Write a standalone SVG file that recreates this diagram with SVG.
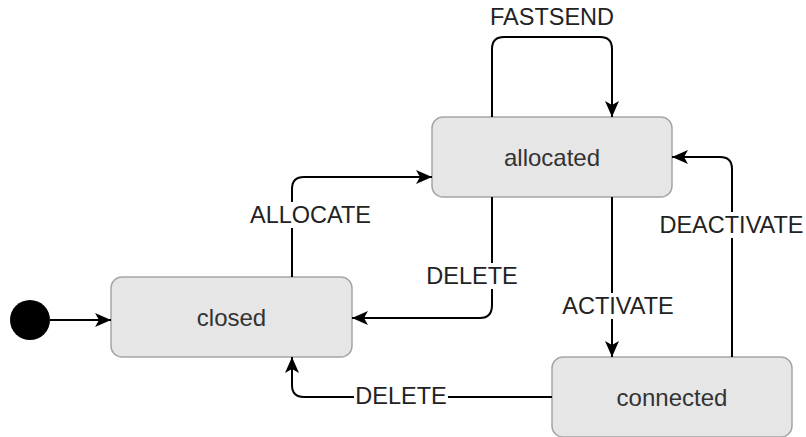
<svg xmlns="http://www.w3.org/2000/svg" width="806" height="437" viewBox="0 0 806 437">
<style>
.node rect{fill:#e6e6e6;stroke:#a6a6a6;stroke-width:1.5}
.node text{font-family:"Liberation Sans",Arial,sans-serif;font-size:24px;fill:#333;text-anchor:middle;dominant-baseline:central}
.edge{fill:none;stroke:#000;stroke-width:2}
.lbl rect{fill:#fff}
.lbl text{font-family:"Liberation Sans",Arial,sans-serif;font-size:23.5px;fill:#222;text-anchor:middle;dominant-baseline:central}
</style>
<defs>
<marker id="arr" markerUnits="userSpaceOnUse" markerWidth="18" markerHeight="16" refX="16" refY="8" orient="auto">
<path d="M0,1 L16,8 L0,15 L4,8 Z" fill="#000"/>
</marker>
</defs>
<g id="initial"><circle cx="30" cy="320" r="20" fill="#000"/></g>
<g id="closed" class="node"><rect x="111" y="277" width="241" height="80" rx="11"/><text x="231.5" y="317">closed</text></g>
<g id="allocated" class="node"><rect x="432" y="117" width="240" height="80" rx="11"/><text x="552" y="157">allocated</text></g>
<g id="connected" class="node"><rect x="552" y="357" width="240" height="80" rx="11"/><text x="672" y="397">connected</text></g>
<g id="connectors">
<path class="edge" d="M50,320 H111" marker-end="url(#arr)"/>
<path class="edge" d="M492,117 V49 Q492,37 504,37 H600 Q612,37 612,49 V117" marker-end="url(#arr)"/>
<path class="edge" d="M292,277 V189 Q292,177 304,177 H432" marker-end="url(#arr)"/>
<path class="edge" d="M492,197 V305 Q492,318 480,318 H352" marker-end="url(#arr)"/>
<path class="edge" d="M612,197 V357" marker-end="url(#arr)"/>
<path class="edge" d="M732,357 V169 Q732,157 720,157 H672" marker-end="url(#arr)"/>
<path class="edge" d="M552,397 H304 Q292,397 292,385 V357" marker-end="url(#arr)"/>
<g class="lbl"><rect x="488" y="4" width="128" height="27"/><text x="552" y="17">FASTSEND</text></g>
<g class="lbl"><rect x="248" y="202" width="125" height="26"/><text x="310.5" y="215">ALLOCATE</text></g>
<g class="lbl"><rect x="425" y="263" width="94" height="26"/><text x="472" y="276">DELETE</text></g>
<g class="lbl"><rect x="559" y="293" width="118" height="26"/><text x="618" y="306">ACTIVATE</text></g>
<g class="lbl"><rect x="657" y="212" width="150" height="26"/><text x="731.5" y="225">DEACTIVATE</text></g>
<g class="lbl"><rect x="354" y="384" width="94" height="26"/><text x="401" y="396">DELETE</text></g>
</g>
</svg>
